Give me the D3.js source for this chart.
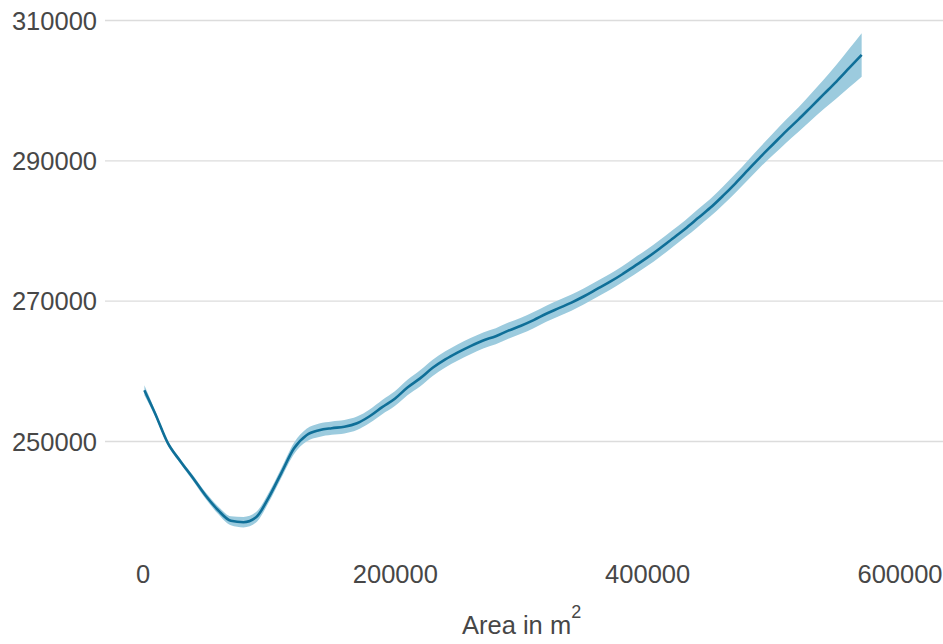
<!DOCTYPE html>
<html>
<head>
<meta charset="utf-8">
<script src="https://cdn.jsdelivr.net/npm/d3@7"></script>
<style>
  html, body { margin: 0; padding: 0; background: #ffffff; }
  svg { display: block; }
  text { font-family: "Liberation Sans", Arial, sans-serif; fill: #474747; }
</style>
</head>
<body>
<svg id="chart" width="943" height="644"></svg>
<script>
// Area (m²) at which the smoothed price is evaluated
const areas = [1500, 10000, 20000, 30000, 40000, 50000, 60000, 70000, 80000, 90000,
  100000, 110000, 120000, 130000, 140000, 150000, 160000, 170000, 180000, 190000,
  200000, 210000, 220000, 230000, 240000, 250000, 260000, 270000, 280000, 290000,
  300000, 310000, 320000, 330000, 340000, 350000, 360000, 370000, 380000, 390000,
  400000, 410000, 420000, 430000, 440000, 450000, 460000, 470000, 480000, 490000,
  500000, 510000, 520000, 530000, 540000, 550000, 560000, 570000];

// Smoothed fit
const fitted = [257300, 254000, 249800, 247200, 244800, 242300, 240200, 238700, 238500, 239200,
  242000, 245500, 249000, 250900, 251600, 251900, 252100, 252600, 253600, 254900,
  256100, 257700, 259000, 260500, 261700, 262700, 263600, 264400, 265000, 265800,
  266500, 267300, 268200, 269000, 269800, 270700, 271700, 272700, 273800, 275000,
  276200, 277500, 278900, 280300, 281800, 283300, 285000, 286800, 288700, 290600,
  292400, 294200, 295900, 297700, 299500, 301300, 303200, 305100];

// Half-width of the confidence ribbon
const halfWidth = [700, 400, 320, 320, 380, 450, 550, 650, 750, 750,
  700, 700, 800, 900, 950, 950, 950, 950, 950, 1000,
  1050, 1100, 1150, 1150, 1150, 1150, 1150, 1150, 1150, 1150,
  1150, 1150, 1150, 1150, 1150, 1150, 1150, 1150, 1150, 1200,
  1200, 1200, 1200, 1200, 1250, 1250, 1300, 1350, 1400, 1450,
  1550, 1650, 1750, 1900, 2100, 2400, 2750, 3100];

const xTicks = [0, 200000, 400000, 600000];
const yTicks = [250000, 270000, 290000, 310000];

const svg = d3.select("#chart");
const panelLeft = 105, panelRight = 943;

const x = d3.scaleLinear().domain([0, 600000]).range([142.5, 899.5]);
const y = d3.scaleLinear().domain([250000, 310000]).range([441.5, 20.5]);

const rows = areas.map((a, i) => ({ a, fit: fitted[i], lo: fitted[i] - halfWidth[i], hi: fitted[i] + halfWidth[i] }));

// Horizontal grid lines
svg.append("g")
  .selectAll("line")
  .data(yTicks)
  .join("line")
  .attr("x1", panelLeft)
  .attr("x2", panelRight)
  .attr("y1", d => y(d))
  .attr("y2", d => y(d))
  .attr("stroke", "#dcdcdc")
  .attr("stroke-width", 1.3);

// Y axis labels
const yAxis = d3.axisLeft(y).tickValues(yTicks).tickSize(0).tickPadding(0).tickFormat(d3.format("d"));
const yg = svg.append("g").attr("transform", "translate(97,0)").call(yAxis);
yg.select(".domain").remove();
yg.selectAll("text")
  .attr("font-size", 25.5)
  .attr("font-family", "Liberation Sans, Arial, sans-serif")
  .attr("fill", "#474747")
  .attr("dy", "0.34em");

// X axis labels
const xAxis = d3.axisBottom(x).tickValues(xTicks).tickSize(0).tickPadding(0).tickFormat(d3.format("d"));
const xg = svg.append("g").attr("transform", "translate(0,565)").call(xAxis);
xg.select(".domain").remove();
xg.selectAll("text")
  .attr("font-size", 25.5)
  .attr("font-family", "Liberation Sans, Arial, sans-serif")
  .attr("fill", "#474747")
  .attr("dy", "0.72em");

// Confidence ribbon
const band = d3.area()
  .x(d => x(d.a))
  .y0(d => y(d.lo))
  .y1(d => y(d.hi))
  .curve(d3.curveMonotoneX);

svg.append("path")
  .datum(rows)
  .attr("d", band)
  .attr("fill", "#9ccbde");

// Fitted line
const line = d3.line()
  .x(d => x(d.a))
  .y(d => y(d.fit))
  .curve(d3.curveMonotoneX);

svg.append("path")
  .datum(rows)
  .attr("d", line)
  .attr("fill", "none")
  .attr("stroke", "#0f6f98")
  .attr("stroke-width", 2.6);

// Axis title
const title = svg.append("text")
  .attr("x", 462)
  .attr("y", 634)
  .attr("font-size", 25.5);
title.append("tspan").text("Area in m");
title.append("tspan").attr("font-size", 18).attr("dy", -16).text("2");
</script>
</body>
</html>
